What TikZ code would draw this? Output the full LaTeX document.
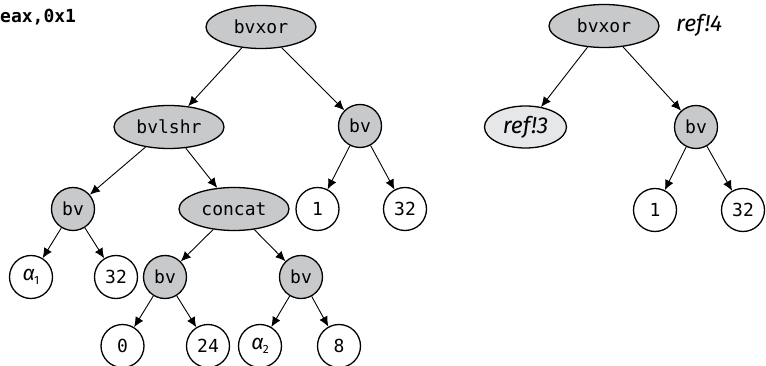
\documentclass[tikz,border=0pt]{standalone}
\usepackage{fontspec}
\usetikzlibrary{arrows.meta,shapes.geometric}
\newfontfamily\monof{DejaVu Sans Mono}
\newfontfamily\itf{Fira Sans}
\definecolor{nodegray}{RGB}{200,201,203}
\definecolor{lightgray2}{RGB}{230,231,232}
\newcommand{\alphasub}[1]{{\itf\itshape\fontsize{21}{22}\selectfont α}\kern-1pt\raisebox{-4pt}{\itf\fontsize{12}{13}\selectfont #1}}
\begin{document}
\begin{tikzpicture}[x=1pt,y=-1pt,
  every node/.style={font=\fontsize{18}{20}\selectfont\monof},
  opnode/.style={ellipse,draw,line width=1.3pt,fill=nodegray,minimum width=110pt,minimum height=43pt,inner sep=0pt},
  bvnode/.style={circle,draw,line width=1.3pt,fill=nodegray,minimum size=43pt,inner sep=0pt},
  leaf/.style={circle,draw,line width=1.3pt,fill=white,minimum size=43pt,inner sep=0pt},
  itlabel/.style={font=\fontsize{23}{24}\selectfont\itf\itshape},
  refnode/.style={ellipse,draw,line width=1.3pt,fill=lightgray2,minimum width=82pt,minimum height=42pt,inner sep=0pt,itlabel},
  edge/.style={-{Latex[length=10pt,width=9pt]},line width=0.9pt}]
\useasboundingbox (0,0) rectangle (766,366);
% left tree
\node[anchor=west,inner sep=0pt,font=\fontsize{18}{20}\selectfont\monof\bfseries] (eax) at (0,17) {eax,0x1};
\node[opnode] (t) at (261,27) {bvxor};
\node[opnode] (l1) at (169,127) {bvlshr};
\node[bvnode] (r1) at (360,126) {bv};
\node[bvnode] (l2) at (73,209) {bv};
\node[opnode] (c) at (234,209) {concat};
\node[leaf] (n1) at (317.5,209) {1};
\node[leaf] (n32) at (405,209) {32};
\node[leaf] (a1) at (31,277) {\alphasub{1}};
\node[leaf] (n32b) at (116,277) {32};
\node[bvnode] (bva) at (165,277) {bv};
\node[bvnode] (bvb) at (301,277) {bv};
\node[leaf] (z) at (122.5,346) {0};
\node[leaf] (n24) at (208,346) {24};
\node[leaf] (a2) at (260,346) {\alphasub{2}};
\node[leaf] (n8) at (339,346) {8};
\draw[edge] (t) -- (l1);
\draw[edge] (t) -- (r1);
\draw[edge] (l1) -- (l2);
\draw[edge] (l1) -- (c);
\draw[edge] (r1) -- (n1);
\draw[edge] (r1) -- (n32);
\draw[edge] (l2) -- (a1);
\draw[edge] (l2) -- (n32b);
\draw[edge] (c) -- (bva);
\draw[edge] (c) -- (bvb);
\draw[edge] (bva) -- (z);
\draw[edge] (bva) -- (n24);
\draw[edge] (bvb) -- (a2);
\draw[edge] (bvb) -- (n8);
% right tree
\node[opnode] (R) at (604,26) {bvxor};
\node[anchor=west,inner sep=0pt,itlabel] (ref4) at (676,25) {ref!4};
\node[refnode] (ref3) at (525.5,127) {ref!3};
\node[bvnode] (Rbv) at (696,127) {bv};
\node[leaf] (R1) at (655,210) {1};
\node[leaf] (R32) at (743,210) {32};
\draw[edge] (R) -- (ref3);
\draw[edge] (R) -- (Rbv);
\draw[edge] (Rbv) -- (R1);
\draw[edge] (Rbv) -- (R32);
\end{tikzpicture}
\end{document}
